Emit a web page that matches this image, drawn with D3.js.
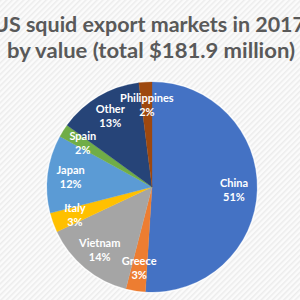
<!DOCTYPE html>
<html>
<head>
<meta charset="utf-8">
<script src="https://cdn.jsdelivr.net/npm/d3@7"></script>
<style>
  body { margin: 0; background: #fff; }
  svg { display: block; }
</style>
</head>
<body>
<svg id="chart" width="300" height="300"></svg>
<script>
// data (share of $181.9 million)
var markets = ["China", "Greece", "Vietnam", "Italy", "Japan", "Spain", "Other", "Philippines"];
var shares = [51, 3, 14, 3, 12, 2, 13, 2];
var colors = ["#4472C4", "#ED7D31", "#A5A5A5", "#FFC000", "#5B9BD5", "#70AD47", "#264478", "#9E480E"];
var titleLines = ["US squid export markets in 2017", "by value (total $181.9 million)"];

var svg = d3.select("#chart");
var w = 300, h = 300;

// striped background
var defs = svg.append("defs");
var pat = defs.append("pattern")
    .attr("id", "stripes")
    .attr("width", 4).attr("height", 4)
    .attr("patternUnits", "userSpaceOnUse")
    .attr("patternTransform", "rotate(45)");
pat.append("rect").attr("width", 4).attr("height", 4).attr("fill", "#fbfbfb");
pat.append("rect").attr("width", 1.5).attr("height", 4).attr("fill", "#ececec");

svg.append("rect").attr("width", w).attr("height", h).attr("fill", "url(#stripes)");

// title
svg.selectAll("text.title")
    .data(titleLines)
    .enter()
    .append("text")
    .attr("class", "title")
    .attr("x", function(d, i) { return i == 0 ? 149 : 151; })
    .attr("y", function(d, i) { return i == 0 ? 32 : 58; })
    .attr("text-anchor", "middle")
    .attr("textLength", function(d, i) { return i == 0 ? 312 : 288; })
    .attr("lengthAdjust", "spacingAndGlyphs")
    .style("font-family", "Lato, 'Open Sans', sans-serif")
    .style("font-weight", "bold")
    .style("font-size", "21px")
    .style("fill", "#595959")
    .text(function(d) { return d; });

// pie
var cx = 152, cy = 187, r = 105;
var pie = d3.pie().sort(null).value(function(d) { return d; });
var arcs = pie(shares);
var arc = d3.arc().innerRadius(0).outerRadius(r);
var labelArc = d3.arc().innerRadius(82).outerRadius(82);

var g = svg.append("g").attr("transform", "translate(" + cx + "," + cy + ")");

g.append("circle").attr("r", r + 1.5).attr("fill", "#ffffff").attr("opacity", 0.8);

g.selectAll("path")
    .data(arcs)
    .enter()
    .append("path")
    .attr("d", arc)
    .attr("fill", function(d, i) { return colors[i]; })
    .attr("stroke", function(d, i) { return colors[i]; })
    .attr("stroke-width", 0.3);

var labels = g.selectAll("g.lbl")
    .data(arcs)
    .enter()
    .append("g")
    .attr("class", "lbl")
    .attr("transform", function(d) {
        var c = labelArc.centroid(d);
        return "translate(" + c[0] + "," + c[1] + ")";
    });

labels.append("text")
    .attr("y", -3)
    .attr("text-anchor", "middle")
    .style("font-family", "Lato, 'Open Sans', sans-serif")
    .style("font-weight", "bold")
    .style("font-size", "11px")
    .style("fill", "#ffffff")
    .text(function(d, i) { return markets[i]; });

labels.append("text")
    .attr("y", 11)
    .attr("text-anchor", "middle")
    .style("font-family", "Lato, 'Open Sans', sans-serif")
    .style("font-weight", "bold")
    .style("font-size", "11px")
    .style("fill", "#ffffff")
    .text(function(d, i) { return shares[i] + "%"; });
</script>
</body>
</html>
